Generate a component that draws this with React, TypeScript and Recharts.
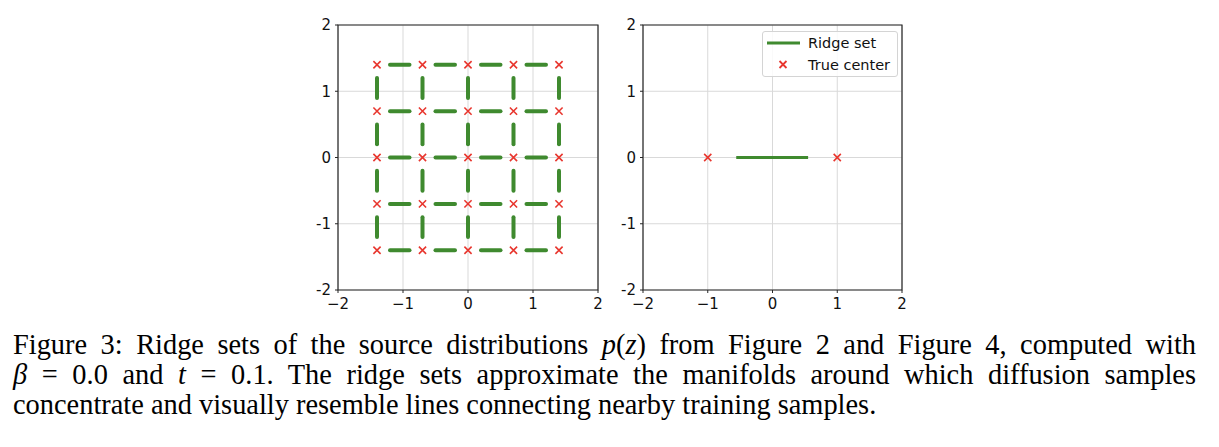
import React from "react";
import {
    ScatterChart,
    Scatter,
    XAxis,
    YAxis,
    CartesianGrid,
    ReferenceLine,
    ReferenceArea,
    Legend
} from "recharts";

// axis ticks shared by both panels
const axisTicks = [-2, -1, 0, 1, 2];

// left panel: 5x5 grid of true centers
const gridCoords = [-1.4, -0.7, 0, 0.7, 1.4];
// ridge dashes between neighbouring centers (start / end along the dash direction)
const dashStarts = [-1.2, -0.5, 0.2, 0.9];
const dashEnds = [-0.9, -0.2, 0.5, 1.2];

// right panel: two centers and one ridge segment
const pairCenters = [
    { x: -1, y: 0 },
    { x: 1, y: 0 }
];
const ridgeSegment = [
    { x: -0.56, y: 0 },
    { x: 0.55, y: 0 }
];

const legendItems = [
    { label: "Ridge set", kind: "line" },
    { label: "True center", kind: "cross" }
];

const GREEN = "#3f8a2f";
const RED = "#e8362e";
const AXIS = "#262626";
const GRID = "#d9d9d9";
const FONT = "'DejaVu Sans', sans-serif";

const gridCenters = gridCoords.flatMap(y => gridCoords.map(x => ({ x, y })));

const horizontalDashes = gridCoords.flatMap(y =>
    dashStarts.map((s, i) => [{ x: s, y }, { x: dashEnds[i], y }])
);
const verticalDashes = gridCoords.flatMap(x =>
    dashStarts.map((s, i) => [{ x, y: s }, { x, y: dashEnds[i] }])
);
const gridDashes = [...horizontalDashes, ...verticalDashes];

const Cross = (props: any) => {
    const { cx, cy } = props;
    const r = 3.6;
    return (
        <path
            d={`M${cx - r},${cy - r}L${cx + r},${cy + r}M${cx - r},${cy + r}L${cx + r},${cy - r}`}
            stroke={RED}
            strokeWidth={1.6}
            fill="none"
        />
    );
};

const xFormat = (v: number) => (v < 0 ? `\u2212${-v}` : `${v}`);
const yFormat = (v: number) => (v < 0 ? `-${-v}` : `${v}`);

const tickStyle = { fontSize: 15, fill: "#111", fontFamily: FONT };

const LegendBox = () => (
    <div
        style={{
            border: "1px solid #d4d4d4",
            borderRadius: 3,
            background: "rgba(255,255,255,0.85)",
            width: 134,
            fontFamily: FONT,
            fontSize: 14.5,
            color: "#111"
        }}
    >
        {legendItems.map(item => (
            <div key={item.label} style={{ height: 22, position: "relative", lineHeight: "22px" }}>
                <svg width={40} height={22} style={{ position: "absolute", left: 2, top: 0 }}>
                    {item.kind === "line" ? (
                        <line x1={2} y1={11} x2={35} y2={11} stroke={GREEN} strokeWidth={3} />
                    ) : (
                        <path d="M14.5,7L21.5,14M14.5,14L21.5,7" stroke={RED} strokeWidth={1.8} fill="none" />
                    )}
                </svg>
                <span style={{ position: "absolute", left: 45, top: 0, whiteSpace: "nowrap" }}>{item.label}</span>
            </div>
        ))}
    </div>
);

function Panel(props: { left: number; marginRight: number; children: React.ReactNode; legend?: boolean }) {
    return (
        <div style={{ position: "absolute", left: props.left, top: 10 }}>
            <ScatterChart
                width={320}
                height={320}
                margin={{ top: 15, right: props.marginRight, bottom: 20, left: 0 }}
            >
                <CartesianGrid stroke={GRID} strokeWidth={1} />
                <XAxis
                    type="number"
                    dataKey="x"
                    domain={[-2, 2]}
                    ticks={axisTicks}
                    allowDataOverflow
                    axisLine={false}
                    tickSize={3}
                    tickMargin={5}
                    tickLine={{ stroke: AXIS }}
                    tick={tickStyle}
                    tickFormatter={xFormat}
                    height={20}
                    interval={0}
                />
                <YAxis
                    type="number"
                    dataKey="y"
                    domain={[-2, 2]}
                    ticks={axisTicks}
                    allowDataOverflow
                    axisLine={false}
                    tickSize={3}
                    tickMargin={4}
                    tickLine={{ stroke: AXIS }}
                    tick={tickStyle}
                    tickFormatter={yFormat}
                    width={48}
                    interval={0}
                />
                {props.children}
                <ReferenceArea
                    x1={-2}
                    x2={2}
                    y1={-2}
                    y2={2}
                    fill="none"
                    fillOpacity={0}
                    stroke={AXIS}
                    strokeWidth={1.2}
                />
                {props.legend && (
                    <Legend
                        layout="vertical"
                        align="center"
                        verticalAlign="middle"
                        wrapperStyle={{ left: 167, top: 21, width: 136 }}
                        content={() => <LegendBox />}
                    />
                )}
            </ScatterChart>
        </div>
    );
}

function Caption() {
    const justified: React.CSSProperties = {
        textAlign: "justify",
        textAlignLast: "justify"
    };
    return (
        <div
            style={{
                position: "absolute",
                left: 13,
                top: 330,
                width: 1183,
                fontFamily: "'Liberation Serif', serif",
                fontSize: 28.4,
                lineHeight: "30px",
                color: "#000",
                whiteSpace: "nowrap"
            }}
        >
            <div style={justified}>
                Figure 3: Ridge sets of the source distributions <i>p</i>(<i>z</i>) from Figure 2 and Figure 4, computed with
            </div>
            <div style={justified}>
                <i>β</i> = 0.0 and <i>t</i> = 0.1. The ridge sets approximate the manifolds around which diffusion samples
            </div>
            <div>
                concentrate and visually resemble lines connecting nearby training samples.
            </div>
        </div>
    );
}

export default function App() {
    return (
        <div style={{ position: "absolute", left: 0, top: 0, width: 1219, height: 447, background: "#fff" }}>
            <Panel left={290} marginRight={12}>
                {gridDashes.map((seg, i) => (
                    <ReferenceLine
                        key={`d${i}`}
                        segment={seg}
                        stroke={GREEN}
                        strokeWidth={4}
                        strokeLinecap="round"
                    />
                ))}
                <Scatter data={gridCenters} shape={Cross} isAnimationActive={false} />
            </Panel>
            <Panel left={595} marginRight={13} legend>
                <ReferenceLine segment={ridgeSegment} stroke={GREEN} strokeWidth={3} />
                <Scatter data={pairCenters} shape={Cross} isAnimationActive={false} />
            </Panel>
            <Caption />
        </div>
    );
}
